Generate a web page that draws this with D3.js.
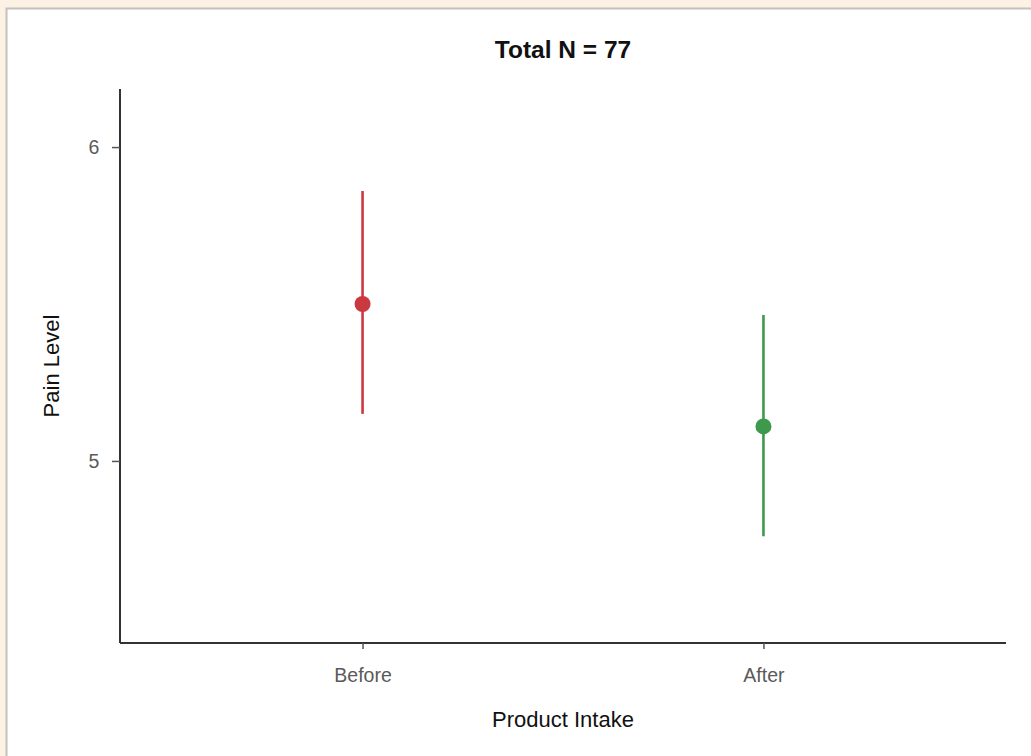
<!DOCTYPE html>
<html><head><meta charset="utf-8">
<script src="https://cdn.jsdelivr.net/npm/d3@7"></script>
<style>
html,body{margin:0;padding:0;background:#fcf2e4;}
svg{display:block;}
text{font-family:"Liberation Sans",Arial,sans-serif;}
</style></head>
<body>
<svg id="chart" width="1031" height="756"></svg>
<script>
const categories = ["Before", "After"];
const means = [5.50, 5.11];
const lower = [5.15, 4.76];
const upper = [5.86, 5.465];
const colors = ["#c9393f", "#3d9a4c"];
const yTicks = [5, 6];
const title = "Total N = 77";
const xTitle = "Product Intake";
const yTitle = "Pain Level";

const svg = d3.select("#chart");
// panel
svg.append("rect").attr("x", 6.5).attr("y", 8.5).attr("width", 1040).attr("height", 760)
  .attr("fill", "#fff").attr("stroke", "#c4c0bb").attr("stroke-width", 2);

const mLeft = 120, mRight = 1006, mTop = 89, mBottom = 643;
const x = d3.scalePoint().domain(categories).range([mLeft, mRight]).padding(0.605);
const y = d3.scaleLinear().domain([4.42, 6.185]).range([mBottom, mTop]);

const gx = svg.append("g").attr("transform", `translate(0,${mBottom})`)
  .call(d3.axisBottom(x).tickSize(6).tickSizeOuter(0));
const gy = svg.append("g").attr("transform", `translate(${mLeft},0)`)
  .call(d3.axisLeft(y).tickValues(yTicks).tickFormat(d3.format("d")).tickSize(8).tickSizeOuter(0));

[gx, gy].forEach(g => {
  g.select(".domain").attr("stroke", "#333").attr("stroke-width", 2);
  g.selectAll(".tick line").attr("stroke", "#555").attr("stroke-width", 1.5);
  g.selectAll(".tick text").attr("fill", "#5a5a5a").style("font-size", "19.5px");
});
gx.selectAll(".tick text").attr("dy", "1.55em");
gy.selectAll(".tick text").attr("dx", "-0.5em");
gx.select(".domain").attr("d", `M${mLeft},0H${mRight}`);
gy.select(".domain").attr("d", `M0,${mTop}V${mBottom}`);

// error bars
const data = categories.map((c, i) => ({c, m: means[i], lo: lower[i], hi: upper[i], col: colors[i]}));
svg.selectAll("line.err").data(data).enter().append("line")
  .attr("class", "err")
  .attr("x1", d => x(d.c)).attr("x2", d => x(d.c))
  .attr("y1", d => y(d.lo)).attr("y2", d => y(d.hi))
  .attr("stroke", d => d.col).attr("stroke-width", 2.6);
svg.selectAll("circle.pt").data(data).enter().append("circle")
  .attr("class", "pt")
  .attr("cx", d => x(d.c)).attr("cy", d => y(d.m)).attr("r", 8)
  .attr("fill", d => d.col);

// titles
svg.append("text").attr("x", (mLeft + mRight) / 2).attr("y", 57.5).attr("text-anchor", "middle")
  .style("font-size", "24.5px").style("font-weight", "bold").attr("fill", "#111").text(title);
svg.append("text").attr("x", (mLeft + mRight) / 2).attr("y", 727).attr("text-anchor", "middle")
  .style("font-size", "22px").attr("fill", "#111").text(xTitle);
svg.append("text").attr("transform", `translate(59,${(mTop + mBottom) / 2}) rotate(-90)`)
  .attr("text-anchor", "middle").style("font-size", "22px").attr("fill", "#111").text(yTitle);
</script>
</body></html>
